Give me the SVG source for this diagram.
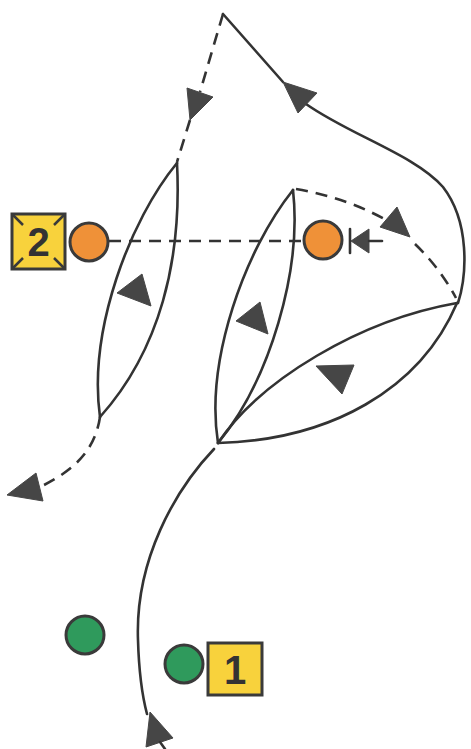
<svg xmlns="http://www.w3.org/2000/svg" width="471" height="749" viewBox="0 0 471 749">
<style>
.s{fill:none;stroke:#333;stroke-width:2.6;stroke-linecap:round;stroke-linejoin:round}
.d{fill:none;stroke:#333;stroke-width:2.6;stroke-dasharray:12 8}
.ah{fill:#464646;stroke:#464646;stroke-width:1;stroke-linejoin:round}
.box{fill:#f8d23c;stroke:#3a3a3a;stroke-width:3}
.org{fill:#ef9138;stroke:#3a3a3a;stroke-width:3}
.grn{fill:#2f9a5c;stroke:#3a3a3a;stroke-width:3}
.lbl{font-family:"Liberation Sans",Arial,sans-serif;font-weight:bold;font-size:40px;fill:#333;text-anchor:middle}
</style>
<rect width="471" height="749" fill="#ffffff"/>
<g id="connectors">
  <path class="d" d="M223,14 L200,92"/>
  <path class="d" d="M190,120 L177,162"/>
  <polygon class="ah" points="187,88 213,97 190,120"/>
  <path class="s" d="M223,14 L283,82"/>
  <path class="s" d="M306,104 C350,135 415,155 443,187 C470,222 467,275 458,303"/>
  <polygon class="ah" points="283,82 317,93 298,113"/>
  <path class="s" d="M177,163 C130,220 88,330 100,417"/>
  <path class="s" d="M177,163 C182,260 160,350 100,417"/>
  <polygon class="ah" points="142,274 117,293 151,306"/>
  <path class="d" d="M100,417 C95,450 75,470 40,487"/>
  <polygon class="ah" points="7,495 36,473 43,501"/>
  <path class="s" d="M293,190 C245,250 205,360 218,443"/>
  <path class="s" d="M293,190 C302,270 270,380 218,443"/>
  <polygon class="ah" points="260,302 236,321 268,334"/>
  <path class="s" d="M218,443 C260,380 360,320 457,303"/>
  <path class="s" d="M218,443 C330,440 420,390 457,303"/>
  <polygon class="ah" points="316,366 354,365 342,394"/>
  <path class="d" d="M296,189 Q345,197 388,221"/>
  <path class="d" d="M415,244 Q440,268 456,298"/>
  <polygon class="ah" points="410,237 380,227 397,207"/>
  <path class="d" d="M109,241 L302,241"/>
  <line class="s" x1="350" y1="229" x2="350" y2="253"/>
  <polygon class="ah" points="351,241 369,229 369,253"/>
  <line class="s" x1="369" y1="241" x2="382" y2="241"/>
  <path class="s" d="M214,449 C175,490 135,560 138,640 C139,675 142,695 147,714"/>
  <polygon class="ah" points="150,712 146,747 173,738"/>
  <line class="s" x1="160" y1="742" x2="165" y2="749"/>
</g>
<g id="player2">
  <rect class="box" x="12" y="214" width="53" height="55"/>
  <g stroke="#3a3a3a" stroke-width="2.5">
    <line x1="13" y1="215" x2="23" y2="225"/>
    <line x1="64" y1="215" x2="54" y2="225"/>
    <line x1="13" y1="268" x2="23" y2="258"/>
    <line x1="64" y1="268" x2="54" y2="258"/>
  </g>
  <text class="lbl" x="38.5" y="256">2</text>
</g>
<g id="orange-left"><circle class="org" cx="89" cy="242" r="19"/></g>
<g id="orange-right"><circle class="org" cx="323" cy="240" r="19"/></g>
<g id="green-left"><circle class="grn" cx="85" cy="635" r="19"/></g>
<g id="green-right"><circle class="grn" cx="184" cy="664" r="19"/></g>
<g id="player1">
  <rect class="box" x="208" y="643" width="54" height="52"/>
  <text class="lbl" x="235" y="684">1</text>
</g>
</svg>
